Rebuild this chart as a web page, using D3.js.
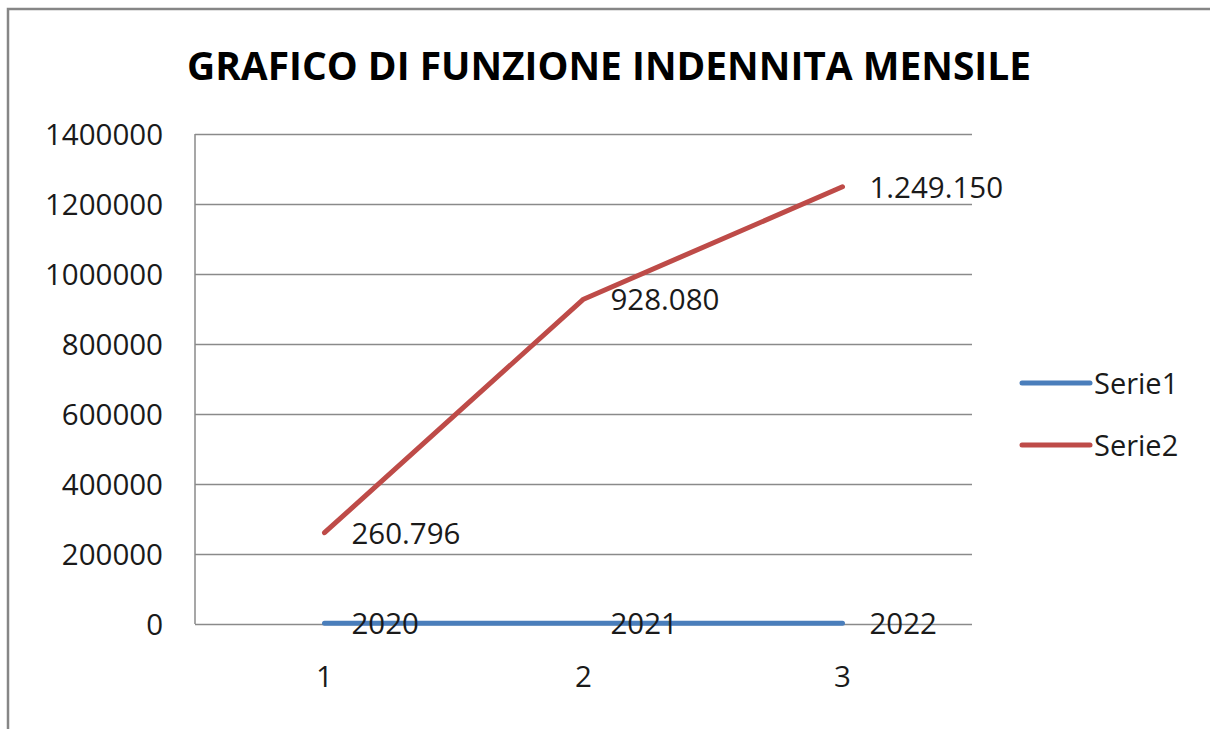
<!DOCTYPE html>
<html>
<head>
<meta charset="utf-8">
<script src="https://cdn.jsdelivr.net/npm/d3@7"></script>
<style>
  body { margin: 0; background: #fff; }
  text { font-family: "Open Sans", sans-serif; fill: #1a1a1a; }
</style>
</head>
<body>
<script>
// chart data
let categories = [1, 2, 3];
let serie1 = [2020, 2021, 2022];
let serie2 = [260796, 928080, 1249150];
let seriesNames = ["Serie1", "Serie2"];
let seriesColors = ["#4a7ebb", "#be4b48"];
let yTicks = [0, 200000, 400000, 600000, 800000, 1000000, 1200000, 1400000];
let title = "GRAFICO DI FUNZIONE INDENNITA MENSILE";

let w = 1210;
let h = 729;
let plot = {left: 195, right: 972, top: 134, bottom: 624};

let it = d3.formatLocale({decimal: ",", thousands: ".", grouping: [3], currency: ["", "€"]});
let fmt = it.format(",d");

let svg = d3.select("body").append("svg")
    .attr("width", w)
    .attr("height", h);

// outer frame (left + top only visible)
svg.append("path")
    .attr("d", "M8,729 L8,9 L1210,9")
    .attr("fill", "none")
    .attr("stroke", "#868686")
    .attr("stroke-width", 2.5);

// title
svg.append("text")
    .attr("x", 609)
    .attr("y", 80)
    .attr("text-anchor", "middle")
    .attr("font-size", 39)
    .attr("font-weight", "bold")
    .attr("textLength", 844)
    .attr("lengthAdjust", "spacingAndGlyphs")
    .style("fill", "#000")
    .text(title);

let x = d3.scaleBand()
    .domain(categories)
    .range([plot.left, plot.right])
    .padding(0);

let y = d3.scaleLinear()
    .domain([0, 1400000])
    .range([plot.bottom, plot.top]);

let cx = function(d) { return x(d) + x.bandwidth() / 2; };

// gridlines + y labels
let yAxis = svg.append("g")
    .attr("transform", "translate(" + plot.left + ",0)")
    .call(d3.axisLeft(y)
        .tickValues(yTicks)
        .tickSize(-(plot.right - plot.left))
        .tickPadding(32)
        .tickFormat(d3.format("d")));
yAxis.select(".domain").remove();
yAxis.selectAll(".tick line")
    .attr("stroke", "#8a8a8a")
    .attr("stroke-width", 1.5);
yAxis.selectAll(".tick text")
    .attr("font-size", 29.5)
    .attr("font-family", "Open Sans, sans-serif")
    .attr("dy", "0.36em")
    .style("fill", "#1a1a1a");

// vertical axis line
svg.append("line")
    .attr("x1", plot.left).attr("x2", plot.left)
    .attr("y1", plot.top).attr("y2", plot.bottom)
    .attr("stroke", "#8a8a8a")
    .attr("stroke-width", 1.5);

// x labels
let xAxis = svg.append("g")
    .attr("transform", "translate(0," + plot.bottom + ")")
    .call(d3.axisBottom(x).tickSize(0).tickPadding(42));
xAxis.select(".domain").remove();
xAxis.selectAll(".tick text")
    .attr("font-size", 29.5)
    .attr("font-family", "Open Sans, sans-serif")
    .style("fill", "#1a1a1a");

// lines
let line = d3.line()
    .x(function(d, i) { return cx(categories[i]); })
    .y(function(d) { return y(d); });

[serie1, serie2].forEach(function(s, k) {
    svg.append("path")
        .datum(s)
        .attr("d", line)
        .attr("fill", "none")
        .attr("stroke", seriesColors[k])
        .attr("stroke-width", 5)
        .attr("stroke-linecap", "round")
        .attr("stroke-linejoin", "round");
});

// data labels
[serie1, serie2].forEach(function(s, k) {
    svg.append("g").selectAll("text")
        .data(s)
        .enter()
        .append("text")
        .attr("x", function(d, i) { return cx(categories[i]) + 27; })
        .attr("y", function(d) { return y(d) + 11; })
        .attr("font-size", 29.5)
        .text(function(d) { return k === 0 ? d : fmt(d); });
});

// legend
let legend = svg.append("g");
seriesNames.forEach(function(n, k) {
    let ly = 383 + k * 62;
    legend.append("line")
        .attr("x1", 1022).attr("x2", 1090)
        .attr("y1", ly).attr("y2", ly)
        .attr("stroke", seriesColors[k])
        .attr("stroke-width", 5)
        .attr("stroke-linecap", "round");
    legend.append("text")
        .attr("x", 1094)
        .attr("y", ly + 11)
        .attr("font-size", 29)
        .text(n);
});
</script>
</body>
</html>
